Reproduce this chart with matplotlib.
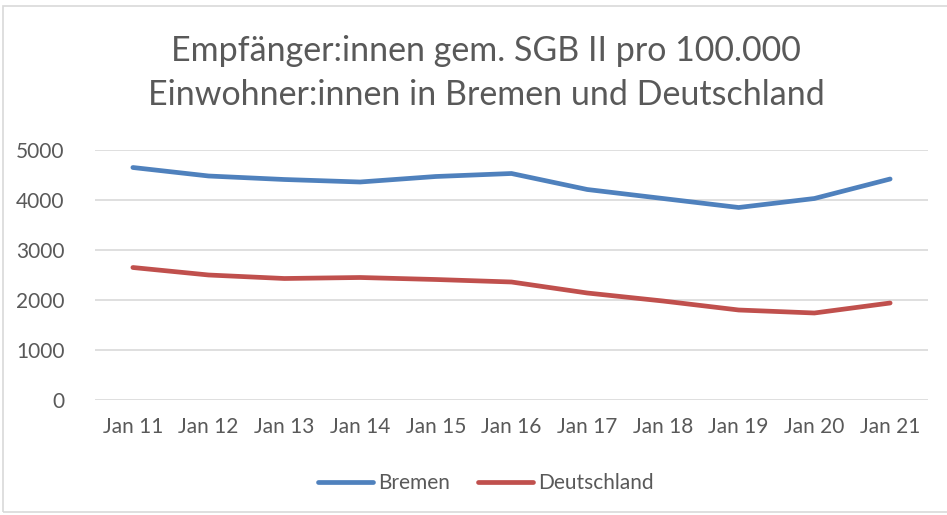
import matplotlib
matplotlib.use("Agg")
import matplotlib.pyplot as plt
from matplotlib.patches import Rectangle

categories = ["Jan 11", "Jan 12", "Jan 13", "Jan 14", "Jan 15", "Jan 16",
              "Jan 17", "Jan 18", "Jan 19", "Jan 20", "Jan 21"]
bremen = [4650, 4480, 4410, 4360, 4470, 4530, 4210, 4030, 3850, 4030, 4420]
deutschland = [2650, 2500, 2430, 2450, 2410, 2360, 2140, 1980, 1800, 1740, 1940]
yticks = [0, 1000, 2000, 3000, 4000, 5000]
title = "Empfänger:innen gem. SGB II pro 100.000\nEinwohner:innen in Bremen und Deutschland"

plt.rcParams['font.family'] = ['Lato', 'DejaVu Sans']
W, H = 947, 515
fig = plt.figure(figsize=(W / 100, H / 100), dpi=100)
fig.patch.set_facecolor("white")
fig.patches.append(Rectangle((3 / W, 3 / H), 1.2, (H - 9) / H, transform=fig.transFigure,
                             fill=False, edgecolor="#d9d9d9", linewidth=1.2))

ax = fig.add_axes([95 / W, 1 - 400 / H, (928 - 95) / W, 250 / H])
x = list(range(len(categories)))
ax.plot(x, bremen, color="#4F81BD", lw=3.4, solid_capstyle="round", solid_joinstyle="round", label="Bremen")
ax.plot(x, deutschland, color="#C0504D", lw=3.4, solid_capstyle="round", solid_joinstyle="round", label="Deutschland")
ax.set_xlim(-0.5, len(categories) - 0.5)
ax.set_ylim(0, 5000)
ax.set_yticks(yticks)
ax.set_xticks(x)
ax.set_xticklabels(categories)
ax.grid(axis="y", color="#d9d9d9", lw=1.2)
ax.set_axisbelow(True)
for s in ax.spines.values():
    s.set_visible(False)
ax.tick_params(length=0, labelsize=15, labelcolor="#595959")
ax.tick_params(axis="x", pad=12)
ax.tick_params(axis="y", pad=22)

fig.text(486 / W, 1 - 73 / H, title, ha="center", va="center", fontsize=24.5,
         color="#595959", linespacing=1.48)

fig.legend(loc="center", bbox_to_anchor=(486 / W, 1 - 483 / H), ncol=2, frameon=False,
           fontsize=15, labelcolor="#595959", handlelength=2.65, handletextpad=0.25,
           columnspacing=1.35)

fig.savefig("out.png", dpi=100, facecolor="white")
